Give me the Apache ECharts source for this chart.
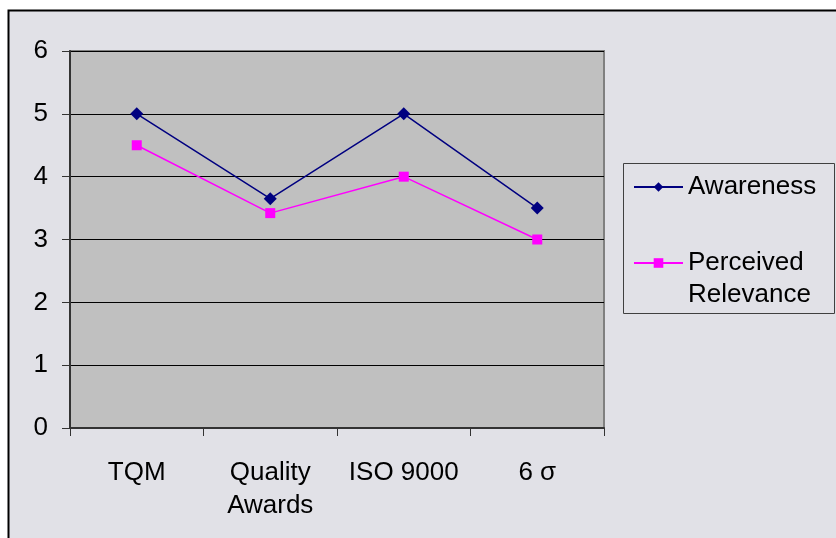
<!DOCTYPE html>
<html><head><meta charset="utf-8">
<script src="https://cdn.jsdelivr.net/npm/echarts@6/dist/echarts.min.js"></script>
<style>html,body{margin:0;padding:0;background:#fff}#c{width:836px;height:538px}</style>
</head><body><div id="c"></div>
<script>
const categories = ['TQM', 'Quality\nAwards', 'ISO 9000', '6 σ'];
const awareness = [5, 3.65, 5, 3.5];
const perceived = [4.5, 3.42, 4, 3];
const yTicks = [0, 1, 2, 3, 4, 5, 6];
const seriesNames = ['Awareness', 'Perceived Relevance'];

const chart = echarts.init(document.getElementById('c'));
const font = 'Liberation Sans, Arial, sans-serif';
chart.setOption({
  animation: false,
  backgroundColor: '#ffffff',
  graphic: [{
    type: 'rect', z: -10,
    shape: {x: 8.5, y: 10.5, width: 840, height: 540},
    style: {fill: '#E1E1E7', stroke: '#000', lineWidth: 2}
  }, {
    type: 'rect', z: -5,
    shape: {x: 623.5, y: 163.5, width: 211, height: 150},
    style: {fill: 'none', stroke: '#404040', lineWidth: 1}
  }],
  grid: {left: 70, top: 51, width: 534, height: 377, show: true,
         backgroundColor: '#C0C0C0', borderColor: '#808080', borderWidth: 2},
  legend: {
    orient: 'vertical', left: 633, top: 171,
    data: seriesNames,
    formatter: n => n === 'Perceived Relevance' ? '\nPerceived\nRelevance' : n,
    itemWidth: 49, itemHeight: 12, itemGap: 12,
    padding: 0,
    textStyle: {fontFamily: font, fontSize: 26, color: '#000', lineHeight: 32},
  },
  xAxis: {
    type: 'category', data: categories, boundaryGap: true,
    axisLine: {lineStyle: {color: '#333', width: 2}},
    axisTick: {show: true, length: 8, lineStyle: {color: '#333', width: 1}},
    axisLabel: {fontFamily: font, fontSize: 26, color: '#000', margin: 28, lineHeight: 33, interval: 0}
  },
  yAxis: {
    type: 'value', min: 0, max: 6, interval: 1,
    axisLine: {show: true, lineStyle: {color: '#333', width: 2}},
    axisTick: {show: true, length: 8, lineStyle: {color: '#333'}},
    axisLabel: {fontFamily: font, fontSize: 26, color: '#000', margin: 22,
                formatter: v => yTicks.includes(v) ? String(v) : ''},
    splitLine: {lineStyle: {color: '#000', width: 1}}
  },
  series: [{
    name: seriesNames[0], type: 'line', data: awareness,
    symbol: 'diamond', symbolSize: 13,
    lineStyle: {color: '#000080', width: 1.5},
    itemStyle: {color: '#000080'}
  }, {
    name: seriesNames[1], type: 'line', data: perceived,
    symbol: 'rect', symbolSize: 10,
    lineStyle: {color: '#FF00FF', width: 1.5},
    itemStyle: {color: '#FF00FF'}
  }]
});
</script></body></html>
